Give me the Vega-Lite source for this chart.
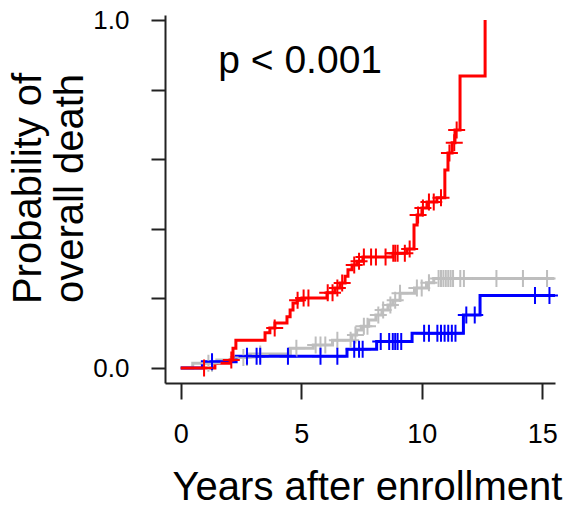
{
  "$schema": "https://vega.github.io/schema/vega-lite/v6.json",
  "autosize": "none",
  "width": 390,
  "height": 368,
  "padding": {"left": 165, "top": 15, "right": 11, "bottom": 134},
  "background": "white",
  "config": {
    "view": {"stroke": null},
    "font": "Liberation Sans",
    "axis": {"grid": false, "domainColor": "#222", "domainWidth": 2, "tickColor": "#222", "tickWidth": 2, "labelColor": "black", "titleColor": "black", "labelFont": "Liberation Sans", "titleFont": "Liberation Sans", "titleFontWeight": "normal"}
  },
  "datasets": {
    "curves": [
      {"g": "gray", "t": 0, "p": 0}, {"g": "gray", "t": 0.5, "p": 0.014}, {"g": "gray", "t": 1.5, "p": 0.023}, {"g": "gray", "t": 2.1, "p": 0.03}, {"g": "gray", "t": 2.8, "p": 0.04}, {"g": "gray", "t": 4.55, "p": 0.057}, {"g": "gray", "t": 5.5, "p": 0.066}, {"g": "gray", "t": 6.3, "p": 0.08}, {"g": "gray", "t": 7.1, "p": 0.095}, {"g": "gray", "t": 7.3, "p": 0.109}, {"g": "gray", "t": 7.5, "p": 0.12}, {"g": "gray", "t": 7.8, "p": 0.138}, {"g": "gray", "t": 8.1, "p": 0.152}, {"g": "gray", "t": 8.35, "p": 0.167}, {"g": "gray", "t": 8.6, "p": 0.181}, {"g": "gray", "t": 8.8, "p": 0.195}, {"g": "gray", "t": 9.1, "p": 0.215}, {"g": "gray", "t": 9.7, "p": 0.23}, {"g": "gray", "t": 10.2, "p": 0.245}, {"g": "gray", "t": 10.5, "p": 0.257}, {"g": "gray", "t": 15.5, "p": 0.257},
      {"g": "blue", "t": 0, "p": 0}, {"g": "blue", "t": 0.9, "p": 0.018}, {"g": "blue", "t": 2.3, "p": 0.034}, {"g": "blue", "t": 6.9, "p": 0.054}, {"g": "blue", "t": 8.13, "p": 0.076}, {"g": "blue", "t": 9.6, "p": 0.1}, {"g": "blue", "t": 11.73, "p": 0.152}, {"g": "blue", "t": 12.42, "p": 0.208}, {"g": "blue", "t": 15.53, "p": 0.208},
      {"g": "red", "t": 0, "p": 0}, {"g": "red", "t": 1.42, "p": 0.014}, {"g": "red", "t": 2.05, "p": 0.023}, {"g": "red", "t": 2.17, "p": 0.057}, {"g": "red", "t": 2.29, "p": 0.08}, {"g": "red", "t": 3.5, "p": 0.101}, {"g": "red", "t": 3.7, "p": 0.115}, {"g": "red", "t": 3.91, "p": 0.129}, {"g": "red", "t": 4.41, "p": 0.147}, {"g": "red", "t": 4.54, "p": 0.167}, {"g": "red", "t": 4.66, "p": 0.187}, {"g": "red", "t": 4.83, "p": 0.195}, {"g": "red", "t": 5.03, "p": 0.201}, {"g": "red", "t": 6.07, "p": 0.216}, {"g": "red", "t": 6.4, "p": 0.23}, {"g": "red", "t": 6.61, "p": 0.244}, {"g": "red", "t": 6.82, "p": 0.264}, {"g": "red", "t": 6.94, "p": 0.282}, {"g": "red", "t": 7.11, "p": 0.296}, {"g": "red", "t": 7.31, "p": 0.307}, {"g": "red", "t": 7.56, "p": 0.319}, {"g": "red", "t": 8.81, "p": 0.33}, {"g": "red", "t": 9.39, "p": 0.342}, {"g": "red", "t": 9.68, "p": 0.411}, {"g": "red", "t": 9.81, "p": 0.44}, {"g": "red", "t": 10.01, "p": 0.46}, {"g": "red", "t": 10.22, "p": 0.477}, {"g": "red", "t": 10.63, "p": 0.489}, {"g": "red", "t": 10.96, "p": 0.569}, {"g": "red", "t": 11.09, "p": 0.618}, {"g": "red", "t": 11.26, "p": 0.647}, {"g": "red", "t": 11.38, "p": 0.684}, {"g": "red", "t": 11.59, "p": 0.839}, {"g": "red", "t": 12.63, "p": 1.0}
    ],
    "censors": [
      {"g": "gray", "t": 1.15, "p": 0.014}, {"g": "gray", "t": 1.3, "p": 0.014}, {"g": "gray", "t": 2.6, "p": 0.03}, {"g": "gray", "t": 2.75, "p": 0.03}, {"g": "gray", "t": 3.3, "p": 0.04}, {"g": "gray", "t": 4.8, "p": 0.057}, {"g": "gray", "t": 5.6, "p": 0.066}, {"g": "gray", "t": 5.8, "p": 0.066}, {"g": "gray", "t": 6.0, "p": 0.066}, {"g": "gray", "t": 6.5, "p": 0.08}, {"g": "gray", "t": 7.05, "p": 0.08}, {"g": "gray", "t": 7.25, "p": 0.095}, {"g": "gray", "t": 7.6, "p": 0.12}, {"g": "gray", "t": 7.75, "p": 0.12}, {"g": "gray", "t": 8.2, "p": 0.152}, {"g": "gray", "t": 8.4, "p": 0.167}, {"g": "gray", "t": 8.7, "p": 0.181}, {"g": "gray", "t": 8.9, "p": 0.195}, {"g": "gray", "t": 9.1, "p": 0.215}, {"g": "gray", "t": 9.8, "p": 0.23}, {"g": "gray", "t": 10.0, "p": 0.23}, {"g": "gray", "t": 10.3, "p": 0.245}, {"g": "gray", "t": 10.7, "p": 0.257}, {"g": "gray", "t": 10.8, "p": 0.257}, {"g": "gray", "t": 10.9, "p": 0.257}, {"g": "gray", "t": 11.0, "p": 0.257}, {"g": "gray", "t": 11.1, "p": 0.257}, {"g": "gray", "t": 11.2, "p": 0.257}, {"g": "gray", "t": 11.3, "p": 0.257}, {"g": "gray", "t": 11.6, "p": 0.257}, {"g": "gray", "t": 11.75, "p": 0.257}, {"g": "gray", "t": 13.1, "p": 0.257}, {"g": "gray", "t": 14.2, "p": 0.257}, {"g": "gray", "t": 15.2, "p": 0.257},
      {"g": "blue", "t": 1.3, "p": 0.018}, {"g": "blue", "t": 2.75, "p": 0.034}, {"g": "blue", "t": 3.15, "p": 0.034}, {"g": "blue", "t": 3.3, "p": 0.034}, {"g": "blue", "t": 4.45, "p": 0.034}, {"g": "blue", "t": 5.8, "p": 0.034}, {"g": "blue", "t": 6.5, "p": 0.034}, {"g": "blue", "t": 7.2, "p": 0.054}, {"g": "blue", "t": 7.4, "p": 0.054}, {"g": "blue", "t": 7.55, "p": 0.054}, {"g": "blue", "t": 8.3, "p": 0.076}, {"g": "blue", "t": 8.65, "p": 0.076}, {"g": "blue", "t": 8.8, "p": 0.076}, {"g": "blue", "t": 8.9, "p": 0.076}, {"g": "blue", "t": 9.0, "p": 0.076}, {"g": "blue", "t": 9.15, "p": 0.076}, {"g": "blue", "t": 10.1, "p": 0.1}, {"g": "blue", "t": 10.3, "p": 0.1}, {"g": "blue", "t": 10.65, "p": 0.1}, {"g": "blue", "t": 10.8, "p": 0.1}, {"g": "blue", "t": 10.95, "p": 0.1}, {"g": "blue", "t": 11.1, "p": 0.1}, {"g": "blue", "t": 11.25, "p": 0.1}, {"g": "blue", "t": 11.4, "p": 0.1}, {"g": "blue", "t": 11.85, "p": 0.152}, {"g": "blue", "t": 12.2, "p": 0.152}, {"g": "blue", "t": 14.7, "p": 0.208}, {"g": "blue", "t": 15.3, "p": 0.208},
      {"g": "red", "t": 0.97, "p": 0}, {"g": "red", "t": 2.1, "p": 0.023}, {"g": "red", "t": 3.9, "p": 0.115}, {"g": "red", "t": 4.85, "p": 0.195}, {"g": "red", "t": 5.1, "p": 0.201}, {"g": "red", "t": 5.3, "p": 0.201}, {"g": "red", "t": 6.1, "p": 0.216}, {"g": "red", "t": 6.3, "p": 0.216}, {"g": "red", "t": 6.5, "p": 0.23}, {"g": "red", "t": 6.7, "p": 0.244}, {"g": "red", "t": 7.2, "p": 0.296}, {"g": "red", "t": 7.4, "p": 0.307}, {"g": "red", "t": 7.6, "p": 0.319}, {"g": "red", "t": 7.9, "p": 0.319}, {"g": "red", "t": 8.1, "p": 0.319}, {"g": "red", "t": 8.5, "p": 0.319}, {"g": "red", "t": 8.82, "p": 0.33}, {"g": "red", "t": 8.9, "p": 0.33}, {"g": "red", "t": 9.0, "p": 0.33}, {"g": "red", "t": 9.3, "p": 0.33}, {"g": "red", "t": 9.5, "p": 0.342}, {"g": "red", "t": 9.85, "p": 0.44}, {"g": "red", "t": 10.05, "p": 0.46}, {"g": "red", "t": 10.3, "p": 0.477}, {"g": "red", "t": 10.5, "p": 0.477}, {"g": "red", "t": 10.8, "p": 0.489}, {"g": "red", "t": 11.15, "p": 0.618}, {"g": "red", "t": 11.35, "p": 0.647}, {"g": "red", "t": 11.45, "p": 0.684}
    ],
    "note": [{"t": 1.56, "p": 0.848, "label": "p < 0.001"}]
  },
  "encoding": {
    "x": {"field": "t", "type": "quantitative",
      "scale": {"domain": [-0.651, 15.53], "nice": false, "zero": false},
      "axis": {"values": [0, 5, 10, 15], "title": "Years after enrollment", "tickSize": 16, "labelFontSize": 27, "labelPadding": 22, "titleFontSize": 40, "titlePadding": 20, "titleX": 202, "labelFlush": false}},
    "y": {"field": "p", "type": "quantitative",
      "scale": {"domain": [-0.0431, 1.0144], "nice": false, "zero": false},
      "axis": {"values": [0, 0.2, 0.4, 0.6, 0.8, 1.0], "labelExpr": "datum.value == 0 || datum.value == 1 ? format(datum.value, '.1f') : ''", "title": ["Probability of", "overall death"], "tickSize": 14, "labelFontSize": 26, "labelPadding": 22, "titleFontSize": 40, "titleLineHeight": 42, "titlePadding": 2, "titleY": 173, "labelFlush": false}}
  },
  "layer": [
    {"data": {"name": "curves"}, "transform": [{"filter": "datum.g == 'gray'"}], "mark": {"type": "line", "interpolate": "step-after", "color": "#BEBEBE", "strokeWidth": 3}},
    {"data": {"name": "curves"}, "transform": [{"filter": "datum.g == 'blue'"}], "mark": {"type": "line", "interpolate": "step-after", "color": "#0000FF", "strokeWidth": 3}},
    {"data": {"name": "curves"}, "transform": [{"filter": "datum.g == 'red'"}], "mark": {"type": "line", "interpolate": "step-after", "color": "#FF0000", "strokeWidth": 3}},
    {"data": {"name": "censors"},
      "mark": {"type": "point", "shape": "M-1,0L1,0M0,-1L0,1", "filled": false, "size": 289, "strokeWidth": 2, "opacity": 1},
      "encoding": {"color": {"field": "g", "type": "nominal", "scale": {"domain": ["gray", "blue", "red"], "range": ["#BEBEBE", "#0000FF", "#FF0000"]}, "legend": null}}},
    {"data": {"name": "note"},
      "mark": {"type": "text", "align": "left", "baseline": "alphabetic", "fontSize": 39, "font": "Liberation Sans", "color": "black"},
      "encoding": {"text": {"field": "label"}}}
  ]
}
